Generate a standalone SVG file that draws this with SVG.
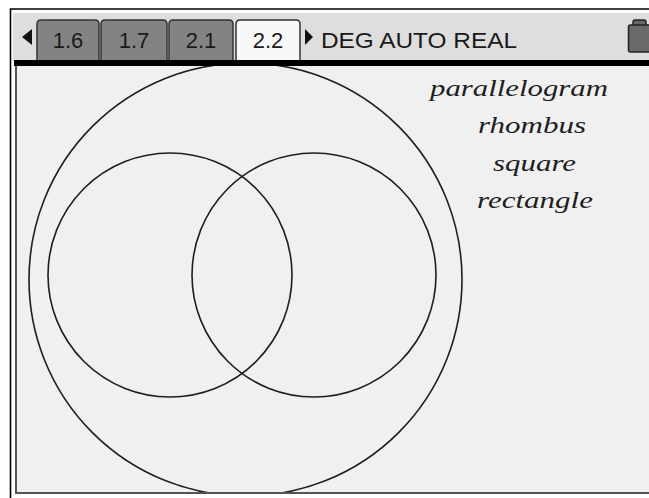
<svg xmlns="http://www.w3.org/2000/svg" width="649" height="498" viewBox="0 0 649 498">
<style>
.tab{stroke:#333;stroke-width:1.5}
.inactive{fill:#838383}
.active{fill:#f8f8f8}
.tabtxt{font-family:"Liberation Sans",Arial,sans-serif;font-size:22px;fill:#1a1a1a;text-anchor:middle}
.hdr{font-family:"Liberation Sans",Arial,sans-serif;font-size:22px;fill:#1a1a1a}
.circ{fill:none;stroke:#1e1e1e;stroke-width:1.6}
.lbl{font-family:"Liberation Serif","Times New Roman",serif;font-style:italic;font-size:24px;fill:#1e1e1e}
</style>
<defs>
<clipPath id="content"><rect x="16" y="66" width="640" height="426"/></clipPath>
</defs>
<rect width="649" height="498" fill="#ffffff"/>
<g id="header">
<rect x="13" y="13" width="640" height="48" fill="#dedede"/>
<path d="M22,37 L32,29 L32,45 Z" fill="#111"/>
<path class="tab inactive" d="M37,60 V24 Q37,20 41,20 H95 Q99,20 99,24 V60"/>
<path class="tab inactive" d="M101,60 V24 Q101,20 105,20 H163 Q167,20 167,24 V60"/>
<path class="tab inactive" d="M169,60 V24 Q169,20 173,20 H229 Q233,20 233,24 V60"/>
<path class="tab active" d="M236,62 V24 Q236,20 240,20 H296 Q300,20 300,24 V62"/>
<text class="tabtxt" x="68" y="48">1.6</text>
<text class="tabtxt" x="134" y="48">1.7</text>
<text class="tabtxt" x="201" y="48">2.1</text>
<text class="tabtxt" x="268" y="48">2.2</text>
<path d="M305,29 L313,37 L305,45 Z" fill="#111"/>
<text class="hdr" x="321" y="48" textLength="196" lengthAdjust="spacingAndGlyphs">DEG AUTO REAL</text>
<path d="M633,25 V22 Q633,20 635,20 H644 Q646,20 646,22 V25" fill="#666" stroke="#222" stroke-width="1.5"/>
<rect x="628.5" y="25" width="24" height="27" rx="2" fill="#6a6a6a" stroke="#222" stroke-width="1.5"/>
<rect x="14" y="60" width="640" height="6" fill="#000"/>
</g>
<g id="frame">
<rect x="16" y="66" width="640" height="426" fill="#f0f0f0"/>
<path d="M16,66 V493 H649" fill="none" stroke="#555" stroke-width="2"/>
<path d="M10.5,498 V9 H649" fill="none" stroke="#000" stroke-width="1.6"/>
</g>
<g id="connectors"></g>
<g clip-path="url(#content)">
<g id="outer-circle"><circle class="circ" cx="245.5" cy="279.5" r="216.5"/></g>
<g id="left-circle"><circle class="circ" cx="170" cy="275" r="122"/></g>
<g id="right-circle"><circle class="circ" cx="314" cy="275" r="122"/></g>
</g>
<g id="labels">
<text class="lbl" x="430" y="96" textLength="178" lengthAdjust="spacingAndGlyphs">parallelogram</text>
<text class="lbl" x="478" y="133" textLength="108" lengthAdjust="spacingAndGlyphs">rhombus</text>
<text class="lbl" x="493" y="171" textLength="83" lengthAdjust="spacingAndGlyphs">square</text>
<text class="lbl" x="477" y="208" textLength="116" lengthAdjust="spacingAndGlyphs">rectangle</text>
</g>
</svg>
